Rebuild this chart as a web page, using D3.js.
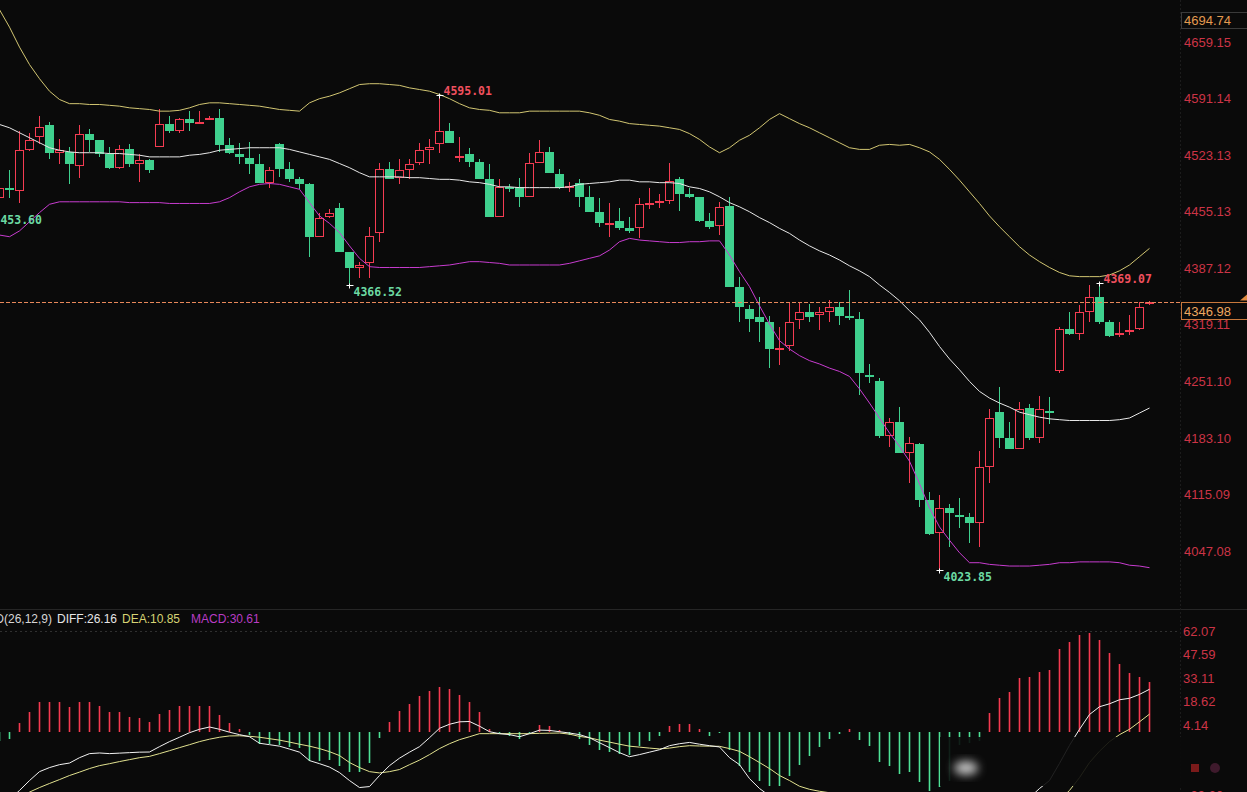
<!DOCTYPE html>
<html>
<head>
<meta charset="utf-8">
<script src="https://cdn.jsdelivr.net/npm/d3@7"></script>
<style>
html, body { margin: 0; padding: 0; background: #0a0a0a; overflow: hidden; }
svg { display: block; }
</style>
</head>
<body>
<svg id="chart" width="1247" height="792"></svg>
<script>
// ---- candles (open / high / low / close), one per bar ----
var opens = [4471,4483,4480,4529,4545,4559,4526,4527,4510,4549, 4541,4525,4508,4530,4513,4517,4533,4561,4552,4566,
    4562,4565,4568,4535,4525,4520,4512,4490,4536,4506, 4495,4488,4425,4449,4460,4407,4387,4393,4429,4507,
    4496,4505,4514,4529,4536,4552,4521,4524,4515,4494, 4449,4485,4485,4473,4514,4527,4501,4485,4490,4473,
    4455,4441,4444,4436,4436,4465,4467,4468,4494,4476, 4473,4444,4438,4462,4364,4338,4329,4323,4290,4293,
    4325,4335,4331,4335,4340,4330,4326,4259,4252,4185, 4202,4165,4176,4108,4069,4099,4090,4088,4081,4148,
    4214,4183,4170,4219,4183,4216,4264,4314,4308,4335, 4353,4322,4308,4312,4314,4344];
var highs = [4488,4505,4552,4550,4570,4563,4542,4533,4559,4555, 4541,4533,4535,4536,4524,4519,4579,4570,4568,4576,
    4576,4570,4579,4544,4538,4539,4524,4509,4538,4515, 4497,4490,4454,4458,4465,4407,4394,4437,4514,4515,
    4519,4519,4538,4542,4595.01,4562,4545,4532,4518,4512, 4494,4488,4496,4526,4541,4533,4507,4491,4495,4486,
    4471,4466,4459,4449,4472,4483,4476,4514,4497,4483, 4473,4454,4467,4473,4377,4343,4352,4330,4316,4346,
    4346,4344,4341,4349,4346,4361,4334,4272,4255,4207, 4220,4184,4177,4118,4114,4104,4111,4093,4167,4218,
    4244,4202,4226,4224,4234,4232,4317,4334,4343,4367, 4369.07,4325,4323,4331,4346,4348];
var lows = [4466,4471,4466,4528,4536,4518,4512,4488,4496,4527, 4521,4506,4506,4509,4491,4502,4533,4550,4550,4552,
    4562,4565,4527,4525,4512,4500,4489,4483,4497,4491, 4482,4401,4425,4448,4407,4366.52,4375,4375,4419,4494,
    4488,4495,4511,4513,4526,4538,4515,4509,4494,4449, 4449,4479,4461,4473,4514,4502,4482,4479,4461,4455,
    4437,4425,4433,4430,4424,4458,4459,4464,4456,4472, 4443,4434,4427,4364,4322,4311,4299,4267,4271,4287,
    4314,4322,4313,4323,4319,4325,4235,4249,4183,4172, 4165,4129,4100,4066,4023.85,4052,4075,4057,4052,4129,
    4171,4170,4170,4181,4177,4200,4261,4307,4301,4323, 4320,4305,4305,4307,4313,4343];
var closes = [4483,4482,4529,4541,4557,4526,4529,4512,4549,4541, 4525,4508,4530,4512,4517,4505,4561,4552,4566,4562,
    4563,4568,4535,4526,4521,4512,4489,4505,4506,4495, 4488,4425,4448,4454,4407,4387,4391,4426,4507,4495,
    4505,4512,4529,4533,4552,4538,4522,4515,4495,4449, 4485,4482,4473,4514,4527,4502,4483,4486,4473,4455,
    4441,4442,4436,4432,4464,4466,4468,4492,4476,4473, 4444,4437,4461,4364,4340,4326,4323,4290,4291,4323,
    4335,4328,4334,4340,4330,4329,4261,4258,4185,4202, 4165,4177,4108,4068,4099,4093,4089,4081,4148,4207,
    4183,4170,4218,4183,4218,4215,4314,4308,4334,4353, 4323,4306,4309,4313,4341,4346.98];

// ---- BOLL bands ----
var bollUpper = [4698,4677,4653,4632,4615,4600,4590,4585,4585,4584, 4584,4583,4582,4580,4579,4578,4576,4576,4577,4580,
    4584,4586,4586,4585,4584,4583,4582,4580,4578,4577, 4576,4586,4591,4594,4598,4603,4608,4609,4609,4608,
    4607,4604,4602,4600,4596,4591,4585,4580,4578,4577, 4574,4574,4574,4576,4576,4576,4576,4576,4576,4574,
    4571,4566,4564,4561,4560,4559,4558,4556,4554,4549, 4542,4533,4526,4532,4541,4547,4556,4566,4573,4567,
    4561,4556,4550,4544,4538,4532,4530,4530,4535,4536, 4535,4536,4532,4527,4518,4506,4493,4479,4465,4450,
    4437,4425,4413,4403,4395,4388,4382,4378,4377,4377, 4377,4379,4384,4391,4401,4411];
var bollMid = [4560,4556,4550,4544,4538,4532,4529,4527,4526,4526, 4526,4525,4525,4524,4523,4521,4521,4521,4521,4523,
    4524,4526,4529,4530,4531,4532,4532,4532,4532,4530, 4527,4524,4521,4518,4513,4508,4502,4497,4497,4497,
    4497,4496,4496,4495,4494,4494,4493,4491,4490,4488, 4485,4485,4484,4484,4484,4484,4484,4485,4488,4489,
    4490,4491,4493,4493,4491,4491,4490,4490,4489,4485, 4483,4479,4473,4466,4461,4455,4448,4442,4435,4429,
    4421,4414,4408,4403,4397,4390,4384,4377,4367,4358, 4348,4336,4325,4310,4293,4278,4265,4251,4239,4231,
    4225,4220,4214,4211,4208,4206,4205,4204,4204,4204, 4204,4204,4205,4207,4213,4219];
var bollLower = [4427,4425,4432,4443,4454,4464,4467,4467,4467,4467, 4467,4467,4467,4466,4466,4466,4466,4465,4465,4465,
    4465,4465,4467,4472,4479,4485,4488,4489,4488,4485, 4482,4466,4450,4441,4430,4414,4399,4389,4388,4388,
    4388,4388,4388,4389,4390,4391,4393,4395,4395,4394, 4393,4391,4391,4391,4391,4391,4391,4393,4396,4399,
    4402,4409,4419,4423,4421,4420,4419,4418,4418,4419, 4419,4420,4420,4403,4383,4365,4342,4320,4300,4290,
    4282,4276,4272,4267,4263,4257,4242,4225,4207,4189, 4173,4155,4128,4099,4076,4060,4045,4033,4033,4031,
    4030,4029,4029,4029,4030,4031,4033,4033,4034,4034, 4034,4034,4033,4030,4029,4027];

// ---- MACD(26,12,9) ----
var macdHist = [-6,-4.5,5.3,11.9,18.6,18.6,18.6,15.5,18.6,18.6, 16.0,11.9,11.9,9.0,8.4,5.7,11.1,13.1,16.0,16.0,
    16.0,16.0,10.4,5.3,1.6,-1.8,-7.4,-7.4,-8.0,-9.4, -10.0,-18.2,-18.2,-17.2,-20.9,-25.0,-25.0,-19.2,-3.9,5.7,
    12.5,17.2,22.1,25.4,27.8,26.4,22.7,18.6,11.9,1.6, -1.0,-2.9,-4.5,-1.0,4.3,3.7,1.2,-1.8,-4.5,-8.0,
    -11.5,-12.7,-13.5,-14.1,-9.0,-5.9,-2.9,3.7,4.9,4.9, 1.6,-2.5,-0.6,-11.5,-21.3,-25.0,-30.5,-33.6,-33.6,-27.4,
    -20.3,-15.0,-9.4,-4.3,-1.2,1.6,-5.3,-9.0,-18.8,-21.3, -25.8,-25.0,-31.1,-36.7,-34.0,-30.5,-8,-7,-6,11.5,
    20.7,24.2,33.0,33.6,37.0,38.1,50.8,55.5,59.6,61.0, 56.5,48.7,41.8,36.1,33.6,30.61];
var macdDiff = [-46.7,-41.8,-36.2,-30.1,-24.6,-22.1,-20.3,-19.3,-16.0,-13.5, -13.1,-13.5,-13.2,-12.9,-12.6,-12.5,-9.2,-6.1,-3.4,-0.6,
    1.5,2.9,1.5,-0.3,-1.8,-3.1,-7.1,-8.0,-8.9,-10.7, -12.6,-17.8,-19.7,-21.8,-25.2,-30.1,-34.4,-33.8,-27.0,-20.9,
    -16.3,-12.6,-9.2,-3.7,2.1,4.6,6.1,6.3,3.4,0.0, -1.2,-1.8,-3.1,-1.2,1.0,0.8,0.0,-0.8,-1.8,-3.7,
    -6.8,-9.8,-12.9,-15.4,-14.1,-12.6,-11.1,-8.6,-7.4,-6.6, -7.7,-8.6,-9.4,-16.0,-20.3,-28.9,-35.0,-39.5,-43.8,-43.8,
    -43.8,-43.0,-41.4,-40.5,-40.2,-39.0,-40.5,-43.5,-50.8,-54.7, -60.1,-62.9,-69.8,-77.2,-80.1,-82.1,-72.0,-72.5,-72.5,-63.2,
    -57.2,-52.9,-45.0,-40.7,-35.0,-30.1,-19.5,-8.4,1.5,10.6, 15.4,17.2,19.7,20.6,23.0,26.16];
var macdDea = [-45.5,-42.4,-39.9,-37.2,-34.4,-31.9,-29.5,-27.0,-24.9,-22.7, -20.9,-19.7,-18.4,-17.2,-16.0,-15.2,-13.5,-11.7,-9.8,-8.0,
    -6.1,-4.6,-3.4,-2.6,-2.5,-2.8,-3.4,-4.3,-5.2,-6.4, -7.7,-8.9,-10.4,-12.3,-14.7,-19.0,-22.1,-24.6,-25.4,-24.6,
    -23.3,-20.3,-17.5,-14.1,-10.4,-7.4,-4.9,-3.1,-1.2,-1.2, -1.2,-1.2,-1.2,-1.2,-1.0,-0.9,-0.8,-1.5,-2.9,-3.7,
    -5.2,-6.4,-7.7,-8.9,-9.5,-10.1,-10.6,-10.1,-9.2,-8.6, -8.8,-8.9,-9.0,-10.4,-12.1,-15.4,-19.0,-22.7,-27.0,-30.1,
    -33.6,-35.5,-36.7,-37.6,-38.0,-38.2,-38.6,-39.5,-41.6,-44.0, -47.2,-50.4,-54.2,-58.8,-63.1,-66.9,-68.0,-69.0,-69.5,-69.0,
    -67.5,-65.0,-61.5,-57.5,-53.5,-49.0,-42.0,-36.2,-28.3,-19.0, -12.0,-6.1,-1.8,1.5,6.1,10.85];

// ---- axis ticks and labels ----
var priceTicks = [4659.15, 4591.14, 4523.13, 4455.13, 4387.12, 4319.11, 4251.10, 4183.10, 4115.09, 4047.08];
var macdTicks = [62.07, 47.59, 33.11, 18.62, 4.14, -39.30];
var topPrice = 4694.74;
var lastPrice = 4346.98;
var extremeBars = [-1, 35, 44, 94, 110];
var extremePrices = [4453.60, 4366.52, 4595.01, 4023.85, 4369.07];
var extremeKinds = ['low', 'low', 'high', 'low', 'high'];
var macdTitle = ['MACD(26,12,9)', 'DIFF:26.16', 'DEA:10.85', 'MACD:30.61'];

var RED = '#f43c52', GREEN = '#3fd08e', BG = '#0a0a0a';
var W = 1247, H = 792, plotRight = 1180;

var svg = d3.select('#chart');
svg.append('rect').attr('width', W).attr('height', H).attr('fill', BG);

var defs = svg.append('defs');
defs.append('clipPath').attr('id', 'clipMain')
    .append('rect').attr('x', -20).attr('y', 0).attr('width', plotRight + 20).attr('height', 607);
defs.append('clipPath').attr('id', 'clipMacd')
    .append('rect').attr('x', -20).attr('y', 611).attr('width', plotRight + 20).attr('height', H - 611);
defs.append('filter').attr('id', 'blur').attr('x', '-50%').attr('y', '-50%').attr('width', '200%').attr('height', '200%')
    .append('feGaussianBlur').attr('stdDeviation', 5);

// scales
var x = d3.scaleLinear().domain([0, 115]).range([-1, 1149]);
var y = d3.scaleLinear().domain([4047.08, 4659.15]).range([551, 42]);
var ym = d3.scaleLinear().domain([4.14, 62.07]).range([725, 631]);
var col = function(i) { return Math.round(x(i)) + 0.5; };

// faint frame lines
svg.append('line').attr('x1', 0).attr('x2', W).attr('y1', 609.5).attr('y2', 609.5)
    .attr('stroke', '#262626');
svg.append('line').attr('x1', plotRight + 0.5).attr('x2', plotRight + 0.5).attr('y1', 0).attr('y2', H)
    .attr('stroke', '#1c1c1c').attr('stroke-dasharray', '2,2');
svg.append('line').attr('x1', 0).attr('x2', plotRight).attr('y1', Math.round(ym(62.07)) + 0.5).attr('y2', Math.round(ym(62.07)) + 0.5)
    .attr('stroke', '#303030').attr('stroke-dasharray', '2,3');

// ================= main panel =================
var main = svg.append('g').attr('clip-path', 'url(#clipMain)');

var candles = d3.range(opens.length).map(function(i) {
    return { i: i, o: opens[i], h: highs[i], l: lows[i], c: closes[i], up: closes[i] >= opens[i] };
});

var cg = main.append('g').attr('shape-rendering', 'crispEdges');
candles.forEach(function(d) {
    var cx = col(d.i);
    var yt = Math.round(y(Math.max(d.o, d.c)));
    var yb = Math.max(Math.round(y(Math.min(d.o, d.c))), yt + 1);
    var c = d.up ? RED : GREEN;
    if (d.up) {
        cg.append('line').attr('x1', cx).attr('x2', cx).attr('y1', Math.round(y(d.h))).attr('y2', yt)
            .attr('stroke', c);
        cg.append('line').attr('x1', cx).attr('x2', cx).attr('y1', yb).attr('y2', Math.round(y(d.l)))
            .attr('stroke', c);
        if (yb - yt <= 2) {
            cg.append('rect').attr('x', cx - 4.5).attr('y', yt).attr('width', 9).attr('height', Math.max(yb - yt, 2))
                .attr('fill', c);
        } else {
            cg.append('rect').attr('x', cx - 4).attr('y', yt + 0.5).attr('width', 8).attr('height', yb - yt - 1)
                .attr('fill', BG).attr('stroke', c);
        }
    } else {
        cg.append('line').attr('x1', cx).attr('x2', cx).attr('y1', Math.round(y(d.h))).attr('y2', Math.round(y(d.l)))
            .attr('stroke', c);
        cg.append('rect').attr('x', cx - 4.5).attr('y', yt).attr('width', 9).attr('height', Math.max(yb - yt, 2))
            .attr('fill', c);
    }
});

// bollinger lines
var bandLine = d3.line().x(function(d, i) { return x(i) + 0.5; }).y(function(d) { return y(d); });
main.append('path').datum(bollUpper).attr('d', bandLine).attr('fill', 'none').attr('stroke', '#d2c672');
main.append('path').datum(bollMid).attr('d', bandLine).attr('fill', 'none').attr('stroke', '#e8e8e8');
main.append('path').datum(bollLower).attr('d', bandLine).attr('fill', 'none').attr('stroke', '#c83cd0');

// last price dashed line
var yLast = Math.round(y(lastPrice)) + 0.5;
svg.append('line').attr('x1', 0).attr('x2', plotRight).attr('y1', yLast).attr('y2', yLast)
    .attr('stroke', '#e8885a').attr('stroke-dasharray', '4,2');

// high / low markers
extremeBars.forEach(function(b, k) {
    var cx = col(b), cy = Math.round(y(extremePrices[k])) + 0.5;
    var isHigh = extremeKinds[k] === 'high';
    main.append('line').attr('x1', cx - 3).attr('x2', cx + 4).attr('y1', cy).attr('y2', cy).attr('stroke', '#fff');
    main.append('line').attr('x1', cx).attr('x2', cx).attr('y1', cy - 2).attr('y2', cy + 3).attr('stroke', '#fff');
    main.append('text')
        .attr('x', cx + 4).attr('y', isHigh ? cy - 5 : cy + 6.5)
        .attr('dy', '0.35em')
        .attr('fill', isHigh ? '#f0505e' : '#6cd9a2')
        .attr('font-family', 'DejaVu Sans Mono, monospace').attr('font-weight', 'bold')
        .attr('font-size', 11.5)
        .text(extremePrices[k].toFixed(2));
});

// price axis
var yAxis = d3.axisRight(y).tickValues(priceTicks).tickSize(0).tickPadding(4).tickFormat(d3.format('.2f'));
var ya = svg.append('g').attr('transform', 'translate(' + plotRight + ',0)').call(yAxis);
ya.select('.domain').remove();
ya.selectAll('text').attr('fill', '#cc3446').attr('font-family', 'Liberation Sans, Arial, sans-serif')
    .attr('font-size', 13);

// top value box
var yTop = Math.round(y(topPrice)) + 0.5;
svg.append('rect').attr('x', 1181.5).attr('y', yTop).attr('width', 70).attr('height', 16)
    .attr('fill', BG).attr('stroke', '#3a3a3a');
svg.append('text').attr('x', 1184).attr('y', yTop + 8).attr('dy', '0.36em').attr('fill', '#e49a50')
    .attr('font-family', 'Liberation Sans, Arial, sans-serif').attr('font-size', 13).text(topPrice.toFixed(2));

// last price box
svg.append('rect').attr('x', 1181.5).attr('y', yLast).attr('width', 70).attr('height', 17)
    .attr('fill', BG).attr('stroke', '#c8783c');
svg.append('text').attr('x', 1184).attr('y', yLast + 8.5).attr('dy', '0.36em').attr('fill', '#eea860')
    .attr('font-family', 'Liberation Sans, Arial, sans-serif').attr('font-size', 13).text(lastPrice.toFixed(2));
svg.append('path').attr('d', 'M1240,' + (yLast - 2) + 'L1247,' + (yLast - 8) + 'L1247,' + (yLast - 2) + 'Z')
    .attr('fill', '#e08a40');

// ================= MACD panel =================
var mg = svg.append('g').attr('clip-path', 'url(#clipMacd)');
var y0 = Math.round(ym(0));
var bars = mg.append('g');
macdHist.forEach(function(v, i) {
    bars.append('rect').attr('x', Math.round(x(i)) - 0.3).attr('width', 1.6)
        .attr('y', v >= 0 ? Math.round(ym(v)) : y0)
        .attr('height', Math.max(Math.abs(Math.round(ym(v)) - y0), 1))
        .attr('fill', v >= 0 ? '#f43a50' : '#4ee296');
});
var macdLine = d3.line().x(function(d, i) { return x(i) + 0.5; }).y(function(d) { return ym(d); });
mg.append('path').datum(macdDea).attr('d', macdLine).attr('fill', 'none').attr('stroke', '#e2e290');
mg.append('path').datum(macdDiff).attr('d', macdLine).attr('fill', 'none').attr('stroke', '#f2f2f2');

var mAxis = d3.axisRight(ym).tickValues(macdTicks).tickSize(0).tickPadding(3).tickFormat(d3.format('.2f'));
var ma = svg.append('g').attr('transform', 'translate(' + plotRight + ',0)').call(mAxis);
ma.select('.domain').remove();
ma.selectAll('text').attr('fill', '#cc3446').attr('font-family', 'Liberation Sans, Arial, sans-serif')
    .attr('font-size', 13);

// title row
var titleX = [52, 57, 122, 191];
var titleAnchor = ['end', 'start', 'start', 'start'];
var titleCol = ['#d6d6d6', '#e6e6e6', '#d6d474', '#b93cc4'];
macdTitle.forEach(function(t, k) {
    svg.append('text').attr('x', titleX[k]).attr('y', 619).attr('dy', '0.36em')
        .attr('text-anchor', titleAnchor[k]).attr('fill', titleCol[k])
        .attr('font-family', 'Liberation Sans, Arial, sans-serif').attr('font-size', 12).text(t);
});

// watermark veil in the lower right
svg.append('rect').attr('x', 940).attr('y', 737).attr('width', 307).attr('height', 49)
    .attr('fill', BG).attr('opacity', 0.9);
svg.append('ellipse').attr('cx', 966).attr('cy', 768).attr('rx', 12).attr('ry', 7)
    .attr('fill', '#f0f0f0').attr('opacity', 0.8).attr('filter', 'url(#blur)');
svg.append('rect').attr('x', 1191).attr('y', 764).attr('width', 8).attr('height', 8).attr('fill', '#7a1a1a');
svg.append('circle').attr('cx', 1215).attr('cy', 768).attr('r', 5).attr('fill', '#3e1a2c');
</script>
</body>
</html>
